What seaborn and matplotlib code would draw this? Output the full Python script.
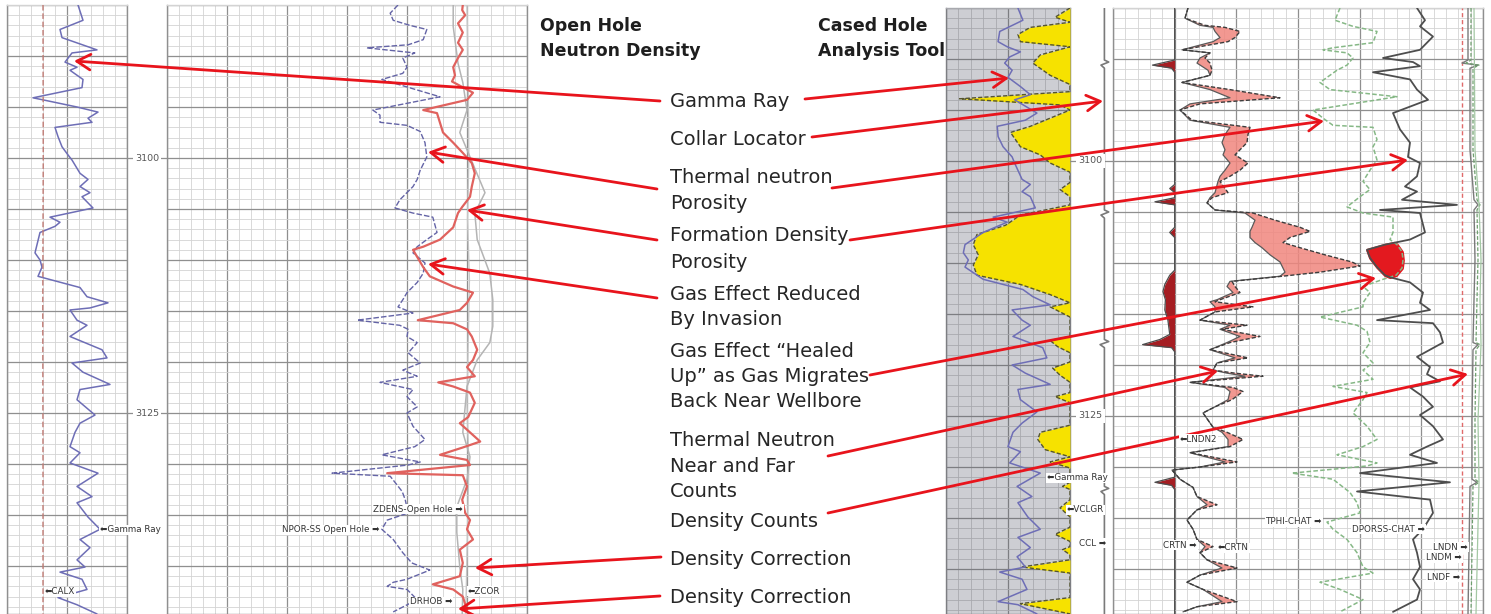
import numpy as np
import matplotlib
matplotlib.use("Agg")
import matplotlib.pyplot as plt
from matplotlib.ticker import MultipleLocator
import seaborn as sns

sns.set_style("white")
plt.rcParams["font.family"] = ["DejaVu Sans"]

# ---------------- open hole logs: (depth ft, value) ----------------
# gamma ray, gAPI
GR_OH = [(3085.0, 71), (3086.5, 76), (3087.4, 53), (3088.2, 55), (3089.4, 90), (3089.7, 65),
         (3090.6, 58), (3091.1, 70), (3091.4, 63), (3092.3, 76), (3093.1, 75), (3094.1, 26),
         (3094.3, 36), (3095.0, 70), (3095.5, 91), (3096.1, 81), (3096.5, 85), (3097.0, 48),
         (3097.9, 51), (3098.9, 55), (3099.7, 61), (3100.2, 65), (3101.5, 73), (3102.1, 81),
         (3102.8, 73), (3103.4, 83), (3103.8, 75), (3104.9, 86), (3105.8, 43), (3106.3, 53),
         (3106.7, 48), (3107.3, 33), (3108.5, 30), (3109.3, 28), (3110.0, 33), (3110.7, 35),
         (3111.6, 31), (3112.7, 73), (3113.6, 80), (3114.2, 101), (3114.7, 83), (3114.9, 63),
         (3115.9, 70), (3116.4, 80), (3117.5, 63), (3118.8, 95), (3119.6, 100), (3120.1, 65),
         (3121.0, 76), (3122.2, 103), (3122.7, 73), (3123.7, 70), (3125.2, 88), (3126.0, 73),
         (3126.9, 68), (3128.3, 63), (3128.9, 73), (3129.9, 63), (3130.9, 91), (3132.2, 70),
         (3133.2, 85), (3133.8, 70), (3135.2, 81), (3136.4, 93), (3137.4, 73), (3138.2, 83),
         (3139.4, 70), (3140.1, 78), (3140.6, 53), (3141.3, 75), (3142.3, 80), (3143.1, 51),
         (3143.8, 70), (3144.7, 90)]

# caliper, in
CALX = [(3085.0, 9.0), (3100.0, 9.02), (3115.0, 8.98), (3130.0, 9.0), (3144.7, 9.0)]

# neutron porosity, p.u.
NPOR = [(3085.0, 21.5), (3085.8, 22.8), (3086.5, 22.3), (3087.0, 19.5), (3087.4, 16.7), (3088.4, 17.3),
        (3088.9, 19.8), (3089.2, 26.7), (3089.7, 18.7), (3090.2, 20.7), (3091.1, 20.0), (3091.7, 20.7),
        (3092.3, 24.2), (3094.0, 14.5), (3095.3, 25.7), (3095.8, 24.5), (3096.5, 24.5), (3096.8, 20.0),
        (3097.4, 17.8), (3098.5, 17.0), (3099.9, 16.7), (3101.2, 17.8), (3102.1, 18.3), (3102.8, 19.0),
        (3104.1, 21.2), (3104.9, 22.0), (3105.4, 19.0), (3105.8, 15.7), (3107.3, 15.0), (3108.0, 16.7),
        (3108.7, 18.3), (3109.3, 19.0), (3110.3, 17.0), (3111.3, 17.3), (3112.2, 18.3), (3113.2, 20.0),
        (3113.9, 20.7), (3114.6, 21.5), (3115.2, 19.0), (3115.9, 28.3), (3116.4, 21.2), (3116.8, 19.8),
        (3117.5, 20.0), (3118.1, 18.3), (3119.1, 19.8), (3120.1, 17.8), (3120.8, 20.7), (3121.4, 18.3),
        (3122.0, 24.5), (3122.7, 19.0), (3123.4, 20.0), (3124.4, 18.3), (3125.0, 20.0), (3126.3, 19.0),
        (3127.6, 17.0), (3128.3, 18.7), (3129.1, 24.2), (3129.8, 17.8), (3130.1, 19.8), (3130.9, 32.5),
        (3131.2, 22.8), (3132.7, 20.8), (3133.5, 20.3), (3134.8, 19.8), (3135.5, 23.3), (3136.4, 24.2),
        (3137.4, 22.3), (3138.7, 20.7), (3139.7, 19.2), (3140.4, 16.2), (3141.3, 20.0), (3141.6, 22.3),
        (3142.0, 23.3), (3142.3, 20.0), (3143.3, 18.3), (3144.5, 22.3)]

# density porosity, p.u.
ZDENS = [(3085.0, 10.7), (3085.5, 10.8), (3086.0, 10.3), (3086.8, 11.5), (3087.7, 10.7), (3088.7, 11.5),
         (3089.4, 10.7), (3090.2, 11.5), (3091.1, 12.3), (3091.9, 12.0), (3092.5, 12.5), (3093.6, 9.0),
         (3094.3, 10.0), (3095.3, 17.3), (3095.6, 15.0), (3097.5, 14.0), (3098.5, 12.3), (3099.5, 10.7),
         (3100.5, 9.2), (3101.5, 8.7), (3102.8, 9.2), (3103.8, 9.5), (3104.8, 10.8), (3105.4, 11.5),
         (3106.8, 12.3), (3108.0, 14.5), (3108.7, 17.3), (3109.0, 19.0), (3110.7, 17.3), (3111.6, 16.2),
         (3112.6, 12.3), (3113.2, 9.0), (3114.2, 10.0), (3114.9, 11.2), (3115.9, 18.2), (3116.2, 12.3),
         (3116.8, 10.0), (3117.5, 9.2), (3118.8, 8.3), (3119.8, 9.0), (3120.5, 10.0), (3121.4, 8.7),
         (3122.0, 14.8), (3122.4, 12.3), (3123.0, 9.5), (3124.0, 8.7), (3125.4, 9.8), (3126.0, 11.2),
         (3126.9, 9.5), (3127.8, 7.8), (3128.4, 10.8), (3129.1, 14.5), (3129.6, 10.0), (3130.1, 9.5),
         (3130.9, 23.3), (3131.1, 10.7), (3132.2, 10.0), (3133.5, 10.8), (3134.8, 10.3), (3135.5, 9.5),
         (3136.4, 10.0), (3137.4, 9.0), (3138.4, 11.2), (3139.7, 10.7), (3141.0, 11.2), (3141.8, 15.7),
         (3142.3, 12.3), (3143.0, 10.7), (3144.3, 10.0)]

# density corrections, g/cc
DRHOB = [(3085.0, -0.023), (3087.1, -0.023), (3090.7, -0.015), (3092.6, -0.007), (3095.3, 0.000),
         (3097.5, -0.012), (3099.9, 0.005), (3103.4, 0.030), (3105.4, 0.013), (3108.0, 0.017),
         (3111.3, 0.038), (3113.9, 0.043), (3116.5, 0.043), (3118.1, 0.038), (3119.8, 0.017),
         (3122.4, 0.000), (3126.9, -0.007), (3129.3, 0.005), (3131.5, 0.000), (3134.2, -0.017),
         (3136.7, -0.017), (3140.1, -0.012), (3142.3, -0.007), (3144.7, -0.008)]
ZCOR = [(3085.0, 0.000), (3092.0, 0.002), (3100.0, 0.003), (3106.0, 0.001), (3112.0, 0.004),
        (3118.0, 0.002), (3124.0, 0.000), (3130.0, 0.003), (3136.0, 0.001), (3144.7, -0.002)]

# ---------------- cased hole logs ----------------
GR_CH = [(3085.0, 87), (3086.2, 93), (3087.3, 65), (3088.3, 63), (3088.8, 74), (3089.3, 90), (3089.8, 77),
         (3090.4, 71), (3091.1, 80), (3091.8, 75), (3092.7, 90), (3093.5, 102), (3094.0, 83), (3095.3, 110),
         (3096.0, 96), (3096.6, 62), (3097.6, 63), (3098.6, 69), (3099.6, 80), (3100.2, 83), (3101.8, 92),
         (3102.3, 102), (3103.0, 92), (3103.5, 102), (3104.6, 108), (3105.5, 57), (3106.0, 74), (3107.0, 45),
         (3108.2, 23), (3109.0, 21), (3109.7, 27), (3110.4, 23), (3111.6, 45), (3112.6, 93), (3113.3, 105),
         (3114.1, 126), (3114.6, 80), (3115.6, 92), (3116.1, 102), (3117.2, 81), (3118.3, 117), (3119.3, 122),
         (3120.0, 80), (3120.8, 96), (3121.9, 126), (3122.4, 87), (3123.4, 90), (3124.6, 110), (3125.7, 92),
         (3126.6, 81), (3128.0, 75), (3128.5, 90), (3129.6, 77), (3130.6, 114), (3131.9, 86), (3132.9, 104),
         (3133.5, 87), (3134.9, 99), (3136.1, 114), (3136.9, 87), (3137.9, 102), (3138.8, 86), (3139.8, 96),
         (3140.3, 65), (3141.0, 92), (3142.0, 98), (3143.2, 63), (3143.5, 87), (3144.4, 110)]

# clay volume from gamma ray, v/v
VCLGR = [(3085.0, 0.0), (3085.9, 0.12), (3086.4, 0.0), (3086.9, 0.32), (3087.6, 0.42), (3088.3, 0.40),
         (3088.8, 0.0), (3089.6, 0.24), (3090.4, 0.30), (3091.6, 0.16), (3092.5, 0.0), (3093.2, 0.0),
         (3093.9, 0.89), (3094.5, 0.08), (3095.0, 0.0), (3096.6, 0.32), (3097.2, 0.48), (3097.9, 0.44),
         (3098.6, 0.40), (3099.4, 0.24), (3100.2, 0.16), (3101.1, 0.0), (3102.1, 0.0), (3102.8, 0.08),
         (3103.5, 0.0), (3104.3, 0.0), (3105.3, 0.40), (3106.3, 0.52), (3107.2, 0.75), (3108.2, 0.78),
         (3109.2, 0.74), (3110.2, 0.78), (3111.2, 0.75), (3112.1, 0.40), (3113.1, 0.16), (3113.9, 0.0),
         (3114.3, 0.16), (3114.8, 0.08), (3115.3, 0.0), (3117.2, 0.0), (3117.6, 0.16), (3118.2, 0.10),
         (3118.8, 0.0), (3119.7, 0.0), (3120.3, 0.14), (3121.0, 0.08), (3121.7, 0.0), (3122.7, 0.0),
         (3123.1, 0.12), (3123.7, 0.0), (3125.9, 0.0), (3126.6, 0.24), (3127.3, 0.26), (3128.3, 0.20),
         (3129.0, 0.0), (3129.5, 0.16), (3130.1, 0.0), (3131.5, 0.0), (3131.9, 0.06), (3132.2, 0.0),
         (3133.2, 0.0), (3134.0, 0.08), (3134.9, 0.0), (3135.9, 0.0), (3136.6, 0.12), (3137.3, 0.0),
         (3137.8, 0.0), (3138.1, 0.06), (3138.6, 0.0), (3139.1, 0.0), (3139.8, 0.39), (3140.4, 0.0),
         (3142.8, 0.0), (3143.4, 0.40), (3144.4, 0.0)]

# casing collar locator
CCL = [(3085.0, 0), (3090.1, 0), (3090.3, 0.5), (3090.6, -0.4), (3090.9, 0), (3104.8, 0), (3105.0, 0.5),
       (3105.3, -0.4), (3105.6, 0), (3117.5, 0), (3117.7, 0.5), (3118.0, -0.5), (3118.3, 0), (3131.9, 0),
       (3132.1, 0.5), (3132.4, -0.4), (3132.7, 0), (3144.4, 0)]

# near/far ratio difference
RATIO_DIFF = [(3085.0, 0), (3090.1, 0), (3090.6, -0.36), (3090.9, -0.05), (3091.3, 0), (3102.3, 0),
              (3102.7, -0.08), (3103.1, 0), (3103.6, 0), (3104.0, -0.32), (3104.3, 0), (3106.5, 0),
              (3107.0, -0.08), (3107.5, 0), (3110.7, 0), (3111.2, -0.08), (3112.1, -0.16), (3112.8, -0.19),
              (3113.6, -0.15), (3114.6, -0.16), (3115.6, -0.11), (3117.0, -0.08), (3117.5, -0.24),
              (3118.0, -0.52), (3118.3, -0.05), (3118.7, 0), (3131.0, 0), (3131.5, -0.32), (3131.8, -0.05),
              (3132.2, 0), (3144.4, 0)]

# thermal neutron counts, cps: (depth, LNDN2 near, CRTN far)
CRTN = [(3085.0, 750, 750), (3086.0, 720, 720), (3086.7, 870, 920), (3086.9, 1000, 1120),
        (3087.3, 1020, 1270), (3087.9, 1070, 1220), (3088.3, 1000, 1150), (3089.1, 690, 690),
        (3089.4, 970, 970), (3089.9, 870, 920), (3090.4, 840, 970), (3091.1, 950, 990),
        (3091.6, 970, 970), (3092.3, 690, 690), (3093.0, 970, 1170), (3093.8, 1170, 1670),
        (3094.4, 770, 870), (3095.0, 670, 670), (3096.0, 770, 790), (3096.7, 1170, 1370),
        (3097.4, 1120, 1350), (3098.2, 1090, 1340), (3098.9, 1120, 1270), (3099.4, 1100, 1220),
        (3100.2, 1170, 1350), (3100.9, 1120, 1270), (3101.5, 1070, 1170), (3102.0, 1050, 1070),
        (3103.1, 1020, 1150), (3103.6, 970, 990), (3104.1, 940, 940), (3104.8, 1020, 1020),
        (3105.1, 1320, 1400), (3105.8, 1420, 1620), (3106.5, 1390, 1870), (3106.9, 1370, 1970),
        (3107.5, 1370, 1770), (3108.0, 1420, 1700), (3108.5, 1490, 1870), (3109.2, 1570, 2120),
        (3109.9, 1670, 2390), (3110.3, 1690, 2470), (3110.9, 1720, 2070), (3111.3, 1670, 1690),
        (3111.8, 1170, 1190), (3112.3, 1140, 1220), (3112.9, 1200, 1270), (3113.6, 1040, 1070),
        (3113.8, 970, 1020), (3114.3, 1020, 1400), (3114.8, 1020, 1020), (3115.6, 870, 870),
        (3116.1, 1170, 1340), (3116.5, 1070, 1090), (3117.2, 1270, 1470), (3117.8, 1140, 1170),
        (3118.5, 970, 970), (3119.3, 1220, 1350), (3119.8, 1040, 1040), (3120.5, 1000, 1000),
        (3120.8, 1140, 1220), (3121.1, 1320, 1500), (3121.7, 770, 770), (3122.2, 1120, 1200),
        (3122.6, 1170, 1300), (3123.4, 1150, 1190), (3124.1, 1020, 1020), (3124.7, 900, 900),
        (3126.1, 1000, 1000), (3126.6, 1090, 1140), (3127.3, 1150, 1300), (3128.0, 1150, 1170),
        (3128.6, 770, 770), (3129.5, 1120, 1240), (3130.0, 870, 870), (3130.3, 590, 590),
        (3131.2, 670, 670), (3132.0, 800, 800), (3132.9, 840, 840), (3133.7, 940, 1040),
        (3134.2, 840, 840), (3135.2, 740, 740), (3136.1, 800, 800), (3137.1, 840, 840),
        (3137.8, 920, 1000), (3138.4, 870, 870), (3139.1, 940, 940), (3139.9, 1090, 1240),
        (3140.6, 870, 870), (3141.3, 740, 740), (3142.0, 900, 900), (3143.2, 1090, 1240),
        (3143.7, 840, 840), (3144.2, 700, 700)]

# cased hole porosities, p.u.
TPHI_CHAT = [(3085.0, 14.3), (3086.2, 14.8), (3086.8, 13.0), (3087.3, 10.6), (3088.4, 11.0), (3088.9, 15.0),
             (3089.1, 16.0), (3089.4, 13.6), (3089.9, 13.0), (3090.6, 13.6), (3091.1, 14.6), (3092.3, 16.3),
             (3093.0, 15.3), (3093.7, 8.6), (3095.0, 17.0), (3095.8, 16.0), (3096.5, 15.0), (3096.7, 11.0),
             (3097.9, 10.6), (3098.6, 11.0), (3099.9, 10.6), (3100.9, 11.3), (3102.0, 12.0), (3102.8, 11.3),
             (3103.5, 12.3), (3104.5, 13.6), (3105.1, 12.0), (3105.5, 9.0), (3107.0, 9.0), (3107.7, 9.3),
             (3108.2, 8.6), (3108.9, 8.1), (3109.7, 8.0), (3110.5, 8.1), (3111.2, 8.7), (3111.6, 10.0),
             (3112.3, 12.0), (3112.9, 11.3), (3113.9, 12.0), (3114.3, 12.0), (3115.3, 16.3), (3116.1, 12.6),
             (3116.7, 11.6), (3117.8, 11.3), (3118.8, 12.0), (3119.8, 11.0), (3120.5, 12.0), (3121.4, 11.0),
             (3122.1, 15.0), (3122.7, 11.6), (3123.4, 12.0), (3124.7, 13.0), (3126.0, 11.6), (3127.3, 10.6),
             (3128.0, 12.0), (3128.8, 14.6), (3129.6, 10.6), (3129.9, 11.6), (3130.6, 19.1), (3131.2, 15.0),
             (3132.5, 13.3), (3133.5, 12.6), (3134.5, 12.3), (3135.4, 15.6), (3136.1, 15.0), (3137.1, 13.6),
             (3138.4, 12.6), (3139.8, 12.0), (3140.4, 11.0), (3141.3, 16.3), (3142.0, 14.3), (3143.0, 12.0),
             (3144.2, 14.3)]

DPORSS_CHAT = [(3085.0, 6.6), (3086.2, 5.8), (3086.8, 6.3), (3087.8, 5.0), (3089.1, 6.3), (3089.9, 10.0),
               (3090.3, 7.0), (3090.7, 6.3), (3091.3, 11.0), (3092.0, 7.3), (3093.0, 6.6), (3094.0, 5.5),
               (3095.3, 9.0), (3096.9, 8.3), (3098.2, 7.3), (3099.6, 7.5), (3100.2, 6.3), (3101.5, 6.6),
               (3102.5, 7.8), (3103.0, 6.6), (3103.8, 8.1), (3104.3, 2.6), (3104.8, 10.3), (3105.1, 6.3),
               (3107.0, 5.8), (3107.7, 7.3), (3108.2, 9.8), (3108.7, 11.6), (3109.5, 11.3), (3110.4, 10.6),
               (3111.2, 9.8), (3111.4, 9.3), (3111.9, 7.3), (3112.9, 6.0), (3113.9, 6.3), (3114.6, 5.3),
               (3115.6, 10.6), (3115.9, 5.0), (3116.8, 4.3), (3117.8, 4.0), (3119.2, 6.6), (3120.2, 5.3),
               (3120.9, 5.6), (3121.6, 4.3), (3122.2, 7.3), (3123.1, 6.0), (3124.1, 5.0), (3124.9, 6.3),
               (3126.0, 5.0), (3127.3, 4.0), (3128.0, 5.6), (3128.8, 7.3), (3129.6, 4.6), (3130.6, 12.3),
               (3131.5, 3.3), (3132.4, 12.6), (3133.2, 5.3), (3134.5, 5.0), (3136.1, 6.0), (3137.1, 7.0),
               (3138.4, 6.6), (3139.8, 6.3), (3141.0, 7.0), (3142.0, 6.3), (3143.0, 6.6), (3144.2, 9.0)]

# density detector counts, cps
LND_DEPTH = [3085.0, 3090.1, 3090.4, 3090.6, 3090.9, 3098.9, 3103.8, 3104.3, 3104.8, 3109.7,
             3113.6, 3117.8, 3118.0, 3118.5, 3125.4, 3131.2, 3131.5, 3131.9, 3144.4]
LNDN = [3550, 3550, 3490, 3650, 3570, 3570, 3610, 3650, 3610, 3620, 3610, 3600, 3650, 3600, 3590, 3590, 3640, 3570, 3550]
LNDM = [3580, 3580, 3530, 3660, 3600, 3600, 3640, 3670, 3640, 3650, 3640, 3630, 3670, 3630, 3620, 3620, 3660, 3600, 3580]
LNDF = [(3085.0, 3610), (3098.9, 3620), (3104.3, 3660), (3109.7, 3680), (3113.6, 3670),
        (3118.0, 3680), (3125.4, 3650), (3131.5, 3660), (3144.4, 3630)]
LND_CUTOFF = 3490

DEPTH_MARKS = [3100, 3125]

TITLES = [("Open Hole", "Neutron Density"), ("Cased Hole", "Analysis Tool")]
NOTES = ["Gamma Ray", "Collar Locator", "Thermal neutron", "Porosity", "Formation Density", "Porosity",
         "Gas Effect Reduced", "By Invasion", "Gas Effect \u201cHealed", "Up\u201d as Gas Migrates",
         "Back Near Wellbore", "Thermal Neutron", "Near and Far", "Counts", "Density Counts",
         "Density Correction", "Density Correction"]

# ---------------- figure layout (pixels) ----------------
W, H = 1491, 614
TOP = 3085.0
FT_PX = 10.2

fig = plt.figure(figsize=(W / 100, H / 100), dpi=100)
fig.patch.set_facecolor("white")


def px_axes(x0, y0, x1, y1, z=1.0):
    return fig.add_axes([x0 / W, 1 - y1 / H, (x1 - x0) / W, (y1 - y0) / H], zorder=z)


def bottom_depth(y0):
    return TOP + (H - y0) / FT_PX


bases = []
twins = []


def grid_track(x0, y0, x1, ndiv, face="white", minor_c="#d3d3d3", major_c="#8f8f8f"):
    ax = px_axes(x0, y0, x1, H)
    ax.set_facecolor(face)
    ax.set_xlim(0, ndiv)
    ax.xaxis.set_major_locator(MultipleLocator(5))
    ax.xaxis.set_minor_locator(MultipleLocator(1))
    ax.yaxis.set_major_locator(MultipleLocator(5))
    ax.yaxis.set_minor_locator(MultipleLocator(1))
    ax.grid(which="minor", color=minor_c, lw=0.6)
    ax.grid(which="major", color=major_c, lw=0.9)
    ax.set_axisbelow(True)
    ax.tick_params(which="both", length=0, labelbottom=False, labelleft=False)
    for name, s in ax.spines.items():
        s.set_color(minor_c if name == "top" else major_c)
        s.set_linewidth(1.0)
    bases.append((ax, bottom_depth(y0)))
    return ax


def curve_axis(base, lo, hi):
    t = base.twiny()
    t.axis("off")
    twins.append((t, lo, hi))
    return t


def unpack(data):
    cols = list(zip(*data))
    return [np.asarray(c, dtype=float) for c in cols]


def trace(ax, depth, vals, **kw):
    sns.lineplot(x=vals, y=depth, orient="y", sort=False, estimator=None, ax=ax, **kw)


# ---------------- open hole: track 1 ----------------
t1 = grid_track(7, 5, 127, 10)
ax_gr = curve_axis(t1, 0, 120)
ax_cal = curve_axis(t1, 6, 16)
d, v = unpack(CALX)
trace(ax_cal, d, v, color="#c07a74", lw=1.0, linestyle=(0, (4, 2)))
d, v = unpack(GR_OH)
trace(ax_gr, d, v, color="#6e6eb6", lw=1.1)

# ---------------- open hole: track 2 ----------------
t2 = grid_track(167, 5, 527, 30)
ax_cor = curve_axis(t2, -0.5, 0.1)
ax_por = curve_axis(t2, 60, 0)
d, v = unpack(ZCOR)
trace(ax_cor, d, v, color="#c6c6c6", lw=1.0)
d, v = unpack(DRHOB)
trace(ax_cor, d, v, color="#b4b4b4", lw=1.1)
d, v = unpack(NPOR)
trace(ax_por, d, v, color="#6464a6", lw=1.0, linestyle=(0, (4, 1.5)))
d, v = unpack(ZDENS)
trace(ax_por, d, v, color="#e0625e", lw=1.6)

# ---------------- cased hole: gamma ray / clay volume ----------------
t3 = grid_track(946, 8, 1070, 10, face="#cdced3", minor_c="#a8a9ae", major_c="#7d7e82")
ax_vcl = curve_axis(t3, 1, 0)
ax_grc = curve_axis(t3, 0, 150)
d, v = unpack(VCLGR)
ax_vcl.fill_betweenx(d, v, 0, color="#f6e200", lw=0)
trace(ax_vcl, d, v, color="#55552f", lw=1.0, linestyle=(0, (3, 1.5)))
d, v = unpack(GR_CH)
trace(ax_grc, d, v, color="#6e6eb6", lw=1.1)

# ---------------- cased hole: counts and porosity ----------------
t4 = grid_track(1113, 8, 1483, 30)
ax_diff = curve_axis(t4, -1, 5)
ax_cnt = curve_axis(t4, 0, 3700)
ax_phi = curve_axis(t4, 37, 0)

d, v = unpack(RATIO_DIFF)
ax_diff.fill_betweenx(d, v, 0, color="#a51d22", lw=0)
trace(ax_diff, d, v, color="#4d4d4d", lw=0.9)

d, near, far = unpack(CRTN)
ax_cnt.fill_betweenx(d, near, far, where=far > near, interpolate=True, color="#f0867e", alpha=0.85, lw=0)
trace(ax_cnt, d, near, color="#5a5a5a", lw=0.9)
trace(ax_cnt, d, far, color="#3c3c3c", lw=1.0, linestyle=(0, (3, 1.5)))

ax_cnt.axvline(LND_CUTOFF, color="#e06a6a", lw=1.0, linestyle=(0, (3, 2)))
trace(ax_cnt, np.array(LND_DEPTH), np.array(LNDN, dtype=float), color="#7a7a7a", lw=1.0)
trace(ax_cnt, np.array(LND_DEPTH), np.array(LNDM, dtype=float), color="#6f9f6f", lw=0.9,
      linestyle=(0, (3, 1.5)))
d, v = unpack(LNDF)
trace(ax_cnt, d, v, color="#a4c8a4", lw=0.9)

dt, tp = unpack(TPHI_CHAT)
dd_, dp = unpack(DPORSS_CHAT)
zone = np.linspace(3107.0, 3112.5, 400)
tp_z = np.interp(zone, dt, tp)
dp_z = np.interp(zone, dd_, dp)
ax_phi.fill_betweenx(zone, tp_z, dp_z, where=tp_z < dp_z, interpolate=True,
                     facecolor="#e3191f", edgecolor="#e3191f", lw=2.0)
trace(ax_phi, dt, tp, color="#86b886", lw=1.1, linestyle=(0, (3, 1.5)))
trace(ax_phi, dd_, dp, color="#4e4e4e", lw=1.3)

# ---------------- depth tracks ----------------
dl = px_axes(127, 5, 167, H)
dl.set_xlim(0, 1)
dl.set_ylim(bottom_depth(5), TOP)
dl.axis("off")
for m in DEPTH_MARKS:
    dl.axhline(m, color="#8f8f8f", lw=0.9)
    dl.text(0.5, m, str(m), ha="center", va="center", fontsize=6.8, color="#555555",
            bbox=dict(boxstyle="square,pad=0.25", fc="white", ec="none"))

dr = px_axes(1070, 8, 1113, H)
dr.set_xlim(-4, 1)
dr.set_ylim(bottom_depth(8), TOP)
dr.axis("off")
for m in DEPTH_MARKS:
    dr.axhline(m, color="#8f8f8f", lw=0.9)
    dr.text(-1.6, m, str(m), ha="center", va="center", fontsize=6.8, color="#555555",
            bbox=dict(boxstyle="square,pad=0.25", fc="white", ec="none"))
d, v = unpack(CCL)
trace(dr, d, v, color="#7a7a7a", lw=1.2)
dr.set_xlim(-4, 1)
dr.set_ylim(bottom_depth(8), TOP)

# final scales
for ax, bot in bases:
    ax.set_ylim(bot, TOP)
for t, lo, hi in twins:
    t.set_xlim(lo, hi)

# ---------------- annotation layer ----------------
ov = fig.add_axes([0, 0, 1, 1], zorder=20)
ov.set_xlim(0, W)
ov.set_ylim(H, 0)
ov.axis("off")

title_x = [540, 818]
for (l1, l2), tx in zip(TITLES, title_x):
    ov.text(tx, 31, l1, fontsize=12.5, fontweight="bold", color="#1e1e1e", va="baseline")
    ov.text(tx, 56, l2, fontsize=12.5, fontweight="bold", color="#1e1e1e", va="baseline")

note_y = [107, 145, 183, 209, 241, 268, 300, 325, 357, 382, 407, 446, 472, 497, 527, 565, 603]
for txt, ny in zip(NOTES, note_y):
    ov.text(670, ny, txt, fontsize=14, color="#262626", va="baseline")

RED = "#e8141c"
arrows = [((660, 101), (74, 61)), ((805, 99), (1009, 78)), ((812, 137), (1103, 101)),
          ((657, 189), (428, 152)), ((832, 188), (1324, 121)), ((657, 240), (467, 210)),
          ((850, 240), (1408, 160)), ((657, 298), (428, 264)), ((870, 375), (1376, 278)),
          ((828, 456), (1218, 371)), ((828, 513), (1468, 374)), ((661, 557), (475, 568)),
          ((660, 596), (458, 609))]
for tail, head in arrows:
    ov.annotate("", xy=head, xytext=tail,
                arrowprops=dict(arrowstyle="->,head_length=0.7,head_width=0.4", color=RED, lw=2.0,
                                shrinkA=0, shrinkB=0, mutation_scale=14))

box = dict(boxstyle="square,pad=0.1", fc="white", ec="none")
curve_tags = [("\u2b05Gamma Ray", 100, 530, "left"), ("\u2b05CALX", 45, 592, "left"),
              ("ZDENS-Open Hole \u27a1", 463, 509, "right"), ("NPOR-SS Open Hole \u27a1", 380, 530, "right"),
              ("\u2b05ZCOR", 468, 591, "left"), ("DRHOB \u27a1", 452, 602, "right"),
              ("\u2b05Gamma Ray", 1047, 478, "left"), ("\u2b05VCLGR", 1067, 510, "left"),
              ("CCL \u27a1", 1106, 543, "right"), ("\u2b05LNDN2", 1180, 439, "left"),
              ("CRTN \u27a1", 1197, 545, "right"), ("\u2b05CRTN", 1218, 548, "left"),
              ("TPHI-CHAT \u27a1", 1322, 522, "right"), ("DPORSS-CHAT \u27a1", 1425, 529, "right"),
              ("LNDN \u27a1", 1468, 547, "right"), ("LNDM \u27a1", 1462, 558, "right"),
              ("LNDF \u27a1", 1460, 577, "right")]
for txt, tx, ty, ha in curve_tags:
    ov.text(tx, ty, txt, fontsize=6.3, color="#333333", ha=ha, va="center", bbox=box)

fig.savefig("out.png", dpi=100, facecolor="white")
